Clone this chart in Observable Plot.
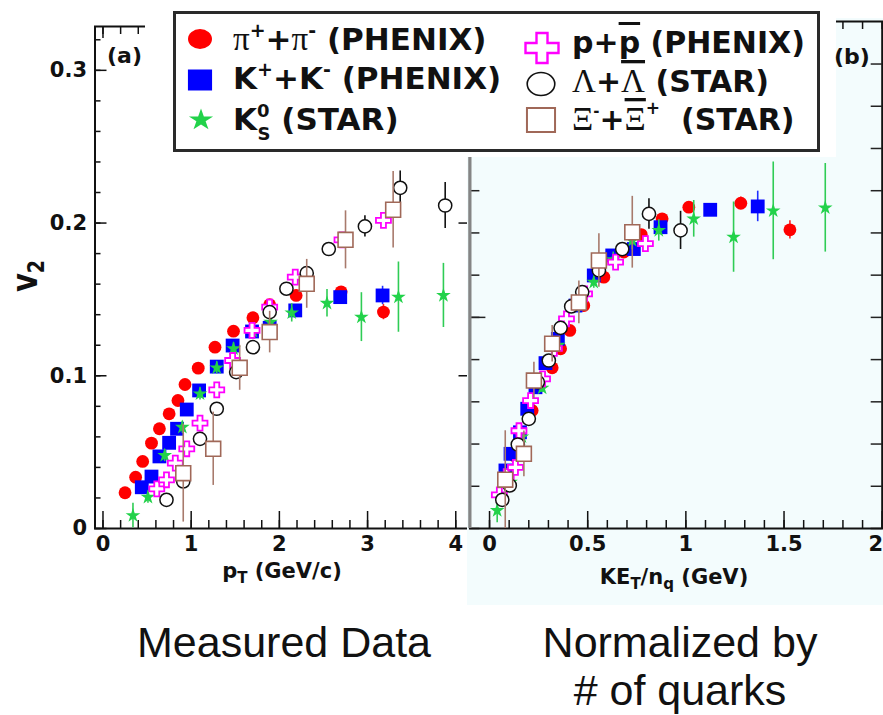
<!DOCTYPE html>
<html>
<head>
<meta charset="utf-8">
<script src="https://cdn.jsdelivr.net/npm/d3@7"></script>
<script src="https://cdn.jsdelivr.net/npm/@observablehq/plot@0.6"></script>
<style>
  body { margin: 0; background: #fff; }
  #root { position: relative; width: 883px; height: 715px; overflow: hidden; background: #fff; }
  #root > * { position: absolute; left: 0; top: 0; }
</style>
</head>
<body>
<div id="root"></div>
<script>
// ================= DATA: panel (a)  v2 vs pT (GeV/c) =================
const piPt   = [0.25, 0.37, 0.45, 0.55, 0.64, 0.75, 0.85, 0.93, 1.08, 1.27, 1.48, 1.70, 1.89, 2.19, 2.70, 3.18];
const piV2   = [0.0234, 0.0336, 0.0439, 0.0559, 0.0653, 0.0751, 0.0838, 0.0943, 0.105, 0.1187, 0.1292, 0.138, 0.1465, 0.1526, 0.155, 0.1417];
const piErr  = [0.001, 0.001, 0.001, 0.001, 0.001, 0.001, 0.001, 0.001, 0.001, 0.001, 0.001, 0.002, 0.002, 0.002, 0.003, 0.005];

const kPt    = [0.44, 0.55, 0.64, 0.75, 0.84, 0.95, 1.09, 1.29, 1.47, 1.69, 1.89, 2.18, 2.69, 3.17];
const kV2    = [0.027, 0.034, 0.0472, 0.0561, 0.0653, 0.0779, 0.0904, 0.106, 0.1198, 0.129, 0.1314, 0.1428, 0.1515, 0.1526];
const kErr   = [0.001, 0.001, 0.001, 0.001, 0.001, 0.001, 0.001, 0.002, 0.002, 0.002, 0.002, 0.003, 0.004, 0.006];

const k0Pt   = [0.34, 0.51, 0.70, 0.90, 1.10, 1.29, 1.48, 1.70, 1.90, 2.14, 2.54, 2.93, 3.35, 3.86];
const k0V2   = [0.0085, 0.0205, 0.0478, 0.0663, 0.0882, 0.1052, 0.1177, 0.1292, 0.1351, 0.1412, 0.1475, 0.1384, 0.1515, 0.1526];
const k0Err  = [0.008, 0.004, 0.004, 0.004, 0.004, 0.004, 0.004, 0.004, 0.005, 0.006, 0.009, 0.016, 0.023, 0.021];

const pPt    = [0.61, 0.72, 0.82, 0.95, 1.10, 1.29, 1.47, 1.69, 1.89, 2.18, 2.71, 3.18];
const pV2    = [0.026, 0.0319, 0.0428, 0.0522, 0.069, 0.0908, 0.11, 0.1297, 0.1449, 0.1646, 0.189, 0.2017];
const pErr   = [0.001, 0.001, 0.001, 0.001, 0.001, 0.002, 0.002, 0.002, 0.002, 0.003, 0.004, 0.005];

const lamPt  = [0.72, 0.91, 1.10, 1.29, 1.51, 1.70, 1.89, 2.08, 2.31, 2.56, 2.97, 3.37, 3.88];
const lamV2  = [0.0188, 0.0308, 0.0587, 0.0784, 0.1024, 0.1187, 0.1417, 0.157, 0.1672, 0.183, 0.1978, 0.2231, 0.2115];
const lamErr = [0.002, 0.004, 0.003, 0.003, 0.003, 0.003, 0.003, 0.003, 0.004, 0.004, 0.007, 0.011, 0.015];

const xiPt   = [0.91, 1.25, 1.55, 1.89, 2.31, 2.75, 3.29];
const xiV2   = [0.0362, 0.0522, 0.1052, 0.1286, 0.1602, 0.189, 0.2087];
const xiErr  = [0.032, 0.024, 0.0147, 0.0136, 0.016, 0.019, 0.025];

// ================= DATA: panel (b)  v2 vs KE_T/n_q (GeV) =================
const piKE    = [0.075, 0.124, 0.217, 0.319, 0.362, 0.409, 0.48, 0.582, 0.684, 0.773, 0.879, 1.015, 1.28, 1.53];
const piV2b   = [0.031, 0.0478, 0.0773, 0.1052, 0.1177, 0.1297, 0.146, 0.1646, 0.181, 0.1925, 0.2028, 0.2104, 0.213, 0.1956];
const piErrB  = [0.001, 0.001, 0.001, 0.001, 0.001, 0.001, 0.002, 0.002, 0.002, 0.002, 0.002, 0.003, 0.004, 0.006];

const kKE     = [0.081, 0.107, 0.155, 0.192, 0.234, 0.285, 0.348, 0.438, 0.531, 0.625, 0.735, 0.871, 1.124, 1.366];
const kV2b    = [0.038, 0.0489, 0.063, 0.0784, 0.0925, 0.1083, 0.1242, 0.146, 0.1657, 0.1788, 0.183, 0.1973, 0.2087, 0.2109];
const kErrB   = [0.001, 0.001, 0.001, 0.001, 0.001, 0.001, 0.002, 0.002, 0.002, 0.002, 0.002, 0.003, 0.004, 0.01];

const k0KE    = [0.039, 0.107, 0.165, 0.268, 0.35, 0.44, 0.531, 0.63, 0.727, 0.862, 1.04, 1.243, 1.445, 1.71];
const k0V2b   = [0.0118, 0.0303, 0.060, 0.092, 0.120, 0.145, 0.1613, 0.176, 0.1886, 0.1952, 0.2028, 0.1908, 0.208, 0.21];
const k0ErrB  = [0.008, 0.003, 0.003, 0.003, 0.003, 0.003, 0.004, 0.005, 0.006, 0.007, 0.012, 0.023, 0.032, 0.029];

const pKE     = [0.05, 0.085, 0.132, 0.15, 0.209, 0.27, 0.33, 0.392, 0.484, 0.642, 0.794];
const pV2b    = [0.022, 0.034, 0.040, 0.064, 0.0838, 0.098, 0.118, 0.1373, 0.1537, 0.1744, 0.1865];
const pErrB   = [0.001, 0.001, 0.001, 0.001, 0.002, 0.002, 0.002, 0.002, 0.002, 0.003, 0.004];

const lamKE   = [0.065, 0.103, 0.144, 0.2, 0.246, 0.302, 0.362, 0.416, 0.472, 0.557, 0.676, 0.812, 0.973];
const lamV2b  = [0.0188, 0.0282, 0.055, 0.0718, 0.0958, 0.11, 0.1314, 0.1454, 0.1548, 0.169, 0.183, 0.206, 0.1952];
const lamErrB = [0.002, 0.002, 0.002, 0.002, 0.002, 0.002, 0.002, 0.002, 0.003, 0.003, 0.004, 0.01, 0.0125];

const xiKE    = [0.08, 0.175, 0.226, 0.319, 0.455, 0.557, 0.727];
const xiV2b   = [0.032, 0.0489, 0.0969, 0.121, 0.148, 0.1755, 0.194];
const xiErrB  = [0.032, 0.015, 0.012, 0.012, 0.014, 0.0175, 0.0235];

// ================= Tick labels =================
const xTickLabelsA = [0, 1, 2, 3, 4];
const yTickLabelsA = [0, 0.1, 0.2, 0.3];
const xTickLabelsB = [0, 0.5, 1, 1.5, 2];

// ================= Species styles =================
const species = [
  {name: "pi",  symbol: "circle", fill: "#ff0000", stroke: "none",    sw: 0,   r: 6.4, err: "#ff2020"},
  {name: "K",   symbol: "square", fill: "#0000ff", stroke: "none",    sw: 0,   r: 7.8, err: "#2030ff"},
  {name: "K0s", symbol: "star",   fill: "#22d24a", stroke: "none",    sw: 0,   r: 4.6, err: "#2fcc55"},
  {name: "p",   symbol: "cross",  fill: "white",   stroke: "#ff00ff", sw: 1.8, r: 6.3, err: "#ff00ff"},
  {name: "Lam", symbol: "circle", fill: "white",   stroke: "#111",    sw: 1.5, r: 6.6, err: "#111"},
  {name: "Xi",  symbol: "square", fill: "white",   stroke: "#a06858", sw: 1.6, r: 8.4, err: "#a87a6c"}
];

const rows = (xs, ys, es) => xs.map((x, i) => ({x, v: ys[i], e: es[i]}));
const dataA = [rows(piPt, piV2, piErr), rows(kPt, kV2, kErr), rows(k0Pt, k0V2, k0Err),
               rows(pPt, pV2, pErr), rows(lamPt, lamV2, lamErr), rows(xiPt, xiV2, xiErr)];
const dataB = [rows(piKE, piV2b, piErrB), rows(kKE, kV2b, kErrB), rows(k0KE, k0V2b, k0ErrB),
               rows(pKE, pV2b, pErrB), rows(lamKE, lamV2b, lamErrB), rows(xiKE, xiV2b, xiErrB)];

function speciesMarks(sets) {
  const out = [];
  sets.forEach((data, i) => {
    const s = species[i];
    out.push(Plot.ruleX(data, {x: "x", y1: d => d.v - d.e, y2: d => d.v + d.e, stroke: s.err, strokeWidth: 1.6}));
    out.push(Plot.dot(data, {x: "x", y: "v", symbol: s.symbol, r: s.r, fill: s.fill,
                             stroke: s.stroke, strokeWidth: s.sw}));
  });
  return out;
}

const FONT = "DejaVu Sans";
const root = document.getElementById("root");

// ================= Panel (a) =================
const xDomA = [-0.0905, 4.15], xRangeA = [94.5, 468.5];
const yDomA = [0, 0.3287],     yRangeA = [528, 26];
const fwA = xRangeA[1] - xRangeA[0], fhA = yRangeA[0] - yRangeA[1];
const yMinorA = d3.range(0, 0.33, 0.02), yMajorA = [0, 0.1, 0.2, 0.3];
const xMinorA = d3.range(0, 4.15, 0.2),  xMajorA = [0, 1, 2, 3, 4];

const plotA = Plot.plot({
  width: 470, height: 600,
  marginLeft: xRangeA[0], marginRight: 470 - xRangeA[1], marginTop: yRangeA[1], marginBottom: 600 - yRangeA[0],
  x: {domain: xDomA, range: xRangeA, axis: null},
  y: {domain: yDomA, range: yRangeA, axis: null},
  style: {background: "transparent", overflow: "visible"},
  marks: [
    Plot.tickY(yMinorA, {y: d => d, insetRight: fwA - 6, stroke: "#111", strokeWidth: 1.5}),
    Plot.tickY(yMajorA, {y: d => d, insetRight: fwA - 12, stroke: "#111", strokeWidth: 1.5}),
    Plot.tickY([0.1, 0.2], {y: d => d, insetLeft: fwA - 10, stroke: "#111", strokeWidth: 1.5}),
    Plot.tickX(xMinorA, {x: d => d, insetTop: fhA - 8, stroke: "#111", strokeWidth: 1.5}),
    Plot.tickX(xMajorA, {x: d => d, insetTop: fhA - 17, stroke: "#111", strokeWidth: 1.5}),
    Plot.tickX(xMinorA, {x: d => d, insetBottom: fhA - 8, stroke: "#111", strokeWidth: 1.5}),
    Plot.tickX(xMajorA, {x: d => d, insetBottom: fhA - 12, stroke: "#111", strokeWidth: 1.5}),
    Plot.frame({stroke: "#111", strokeWidth: 2}),
    Plot.text(xTickLabelsA, {x: d => d, text: d => String(d), frameAnchor: "bottom", lineAnchor: "top", dy: 8,
                             fontFamily: FONT, fontWeight: "bold", fontSize: 21, fill: "#111"}),
    Plot.text(yTickLabelsA, {y: d => d, text: d => d === 0 ? "0" : d.toFixed(1), frameAnchor: "left",
                             textAnchor: "end", dx: -8, fontFamily: FONT, fontWeight: "bold", fontSize: 21, fill: "#111"}),
    ...speciesMarks(dataA)
  ]
});
root.appendChild(plotA);

// light background of panel (b)
const bg = document.createElement("div");
Object.assign(bg.style, {left: "467px", top: "18px", width: "416px", height: "587px", background: "#f3fcfd"});
root.appendChild(bg);

// ================= Panel (b) =================
const xDomB = [-0.1, 2.0],  xRangeB = [469.4, 881.7];
const yDomB = [0, 0.3320],  yRangeB = [528, 21];
const fwB = xRangeB[1] - xRangeB[0], fhB = yRangeB[0] - yRangeB[1];
const yTicksB = d3.range(0, 12).map(i => i * 0.02765);
const yMajB = [yTicksB[5], yTicksB[10]];
const xMinorB = d3.range(0, 2.01, 0.1), xMajorB = [0, 0.5, 1, 1.5, 2];
const lastB = xTickLabelsB[xTickLabelsB.length - 1];

const plotB = Plot.plot({
  width: 883, height: 600,
  marginLeft: xRangeB[0], marginRight: 883 - xRangeB[1], marginTop: yRangeB[1], marginBottom: 600 - yRangeB[0],
  x: {domain: xDomB, range: xRangeB, axis: null},
  y: {domain: yDomB, range: yRangeB, axis: null},
  style: {background: "transparent", overflow: "visible"},
  marks: [
    Plot.tickY(yTicksB, {y: d => d, insetRight: fwB - 10, stroke: "#222", strokeWidth: 1.5}),
    Plot.tickY(yMajB,   {y: d => d, insetRight: fwB - 16, stroke: "#222", strokeWidth: 1.5}),
    Plot.tickY(yTicksB, {y: d => d, insetLeft: fwB - 11, stroke: "#222", strokeWidth: 1.5}),
    Plot.tickX(xMinorB, {x: d => d, insetTop: fhB - 8, stroke: "#111", strokeWidth: 1.5}),
    Plot.tickX(xMajorB, {x: d => d, insetTop: fhB - 17, stroke: "#111", strokeWidth: 1.5}),
    Plot.tickX(xMinorB, {x: d => d, insetBottom: fhB - 8, stroke: "#111", strokeWidth: 1.5}),
    Plot.frame({stroke: "#111", strokeWidth: 2}),
    Plot.ruleX([xDomB[0]], {stroke: "#858585", strokeWidth: 3.2}),
    Plot.text(xTickLabelsB.filter(d => d !== lastB), {x: d => d, text: d => String(d), frameAnchor: "bottom",
                             lineAnchor: "top", dy: 8, fontFamily: FONT, fontWeight: "bold", fontSize: 21, fill: "#111"}),
    Plot.text([lastB], {x: d => d, text: d => String(d), frameAnchor: "bottom", textAnchor: "end", dx: 1,
                             lineAnchor: "top", dy: 8, fontFamily: FONT, fontWeight: "bold", fontSize: 21, fill: "#111"}),
    ...speciesMarks(dataB)
  ]
});
root.appendChild(plotB);

// ================= Overlay: legend, labels, captions =================
const ov = d3.select(root).append("svg")
  .attr("width", 883).attr("height", 715)
  .style("pointer-events", "none");

ov.append("rect").attr("x", 145).attr("y", 0).attr("width", 691).attr("height", 157).attr("fill", "white");
ov.append("rect").attr("x", 174.5).attr("y", 12.5).attr("width", 644).attr("height", 138)
  .attr("fill", "white").attr("stroke", "#2a2a2a").attr("stroke-width", 3);

const legendSymbols = [
  {type: d3.symbolCircle, size: 314, x: 200, y: 39,  sx: 1.2,  fill: "#ff0000", stroke: "none", sw: 0},
  {type: d3.symbolSquare, size: 441, x: 200, y: 80,  sx: 1.15, fill: "#0000ff", stroke: "none", sw: 0},
  {type: d3.symbolStar,   size: 150, x: 201, y: 120, sx: 1.1,  fill: "#22d24a", stroke: "none", sw: 0},
  {type: d3.symbolCross,  size: 500, x: 542, y: 48,  sx: 1.1,  fill: "white",   stroke: "#ff00ff", sw: 2.4},
  {type: d3.symbolCircle, size: 415, x: 541, y: 84,  sx: 1.2,  fill: "white",   stroke: "#111", sw: 1.6},
  {type: d3.symbolSquare, size: 576, x: 541, y: 120, sx: 1.17, fill: "white",   stroke: "#a06858", sw: 2}
];
legendSymbols.forEach(s => {
  ov.append("path").attr("d", d3.symbol(s.type, s.size)())
    .attr("transform", `translate(${s.x},${s.y}) scale(${s.sx},1)`)
    .attr("fill", s.fill).attr("stroke", s.stroke).attr("stroke-width", s.sw)
    .attr("vector-effect", "non-scaling-stroke");
});

const SERIF = "Liberation Serif";
function richText(x, y, parts, base = {}) {
  const t = ov.append("text").attr("x", x).attr("y", y)
    .attr("font-family", base.font || FONT).attr("font-weight", base.weight || "bold")
    .attr("font-size", base.size || 30).attr("fill", "#111").style("white-space", "pre");
  if (base.anchor) t.attr("text-anchor", base.anchor);
  if (base.transform) t.attr("transform", base.transform);
  parts.forEach(p => {
    if (typeof p === "string") p = {t: p};
    const ts = t.append("tspan").text(p.t);
    if (p.size) ts.attr("font-size", p.size);
    if (p.dy) ts.attr("dy", p.dy);
    if (p.dx) ts.attr("dx", p.dx);
    if (p.font) ts.attr("font-family", p.font);
    if (p.weight) ts.attr("font-weight", p.weight);
    if (p.over) ts.style("text-decoration", "overline");
  });
  return t;
}
const G = {font: SERIF, weight: "normal", size: 33};
richText(233, 50, [{...G, t: "π"}, {t: "+", size: 19, dy: -13}, {t: "+", dy: 13}, {...G, t: "π"},
                   {t: "-", size: 19, dy: -13}, {t: " (PHENIX)", dy: 13}], {size: 31});
richText(233, 89, ["K", {t: "+", size: 19, dy: -13}, {t: "+", dy: 13}, "K",
                   {t: "-", size: 19, dy: -13}, {t: " (PHENIX)", dy: 13}], {size: 31});
richText(233, 130, ["K", {t: "0", size: 18, dy: -13}, {t: "S", size: 18, dx: -12, dy: 23}, {t: " (STAR)", dy: -10}], {size: 31});
richText(572, 53, ["p+", {t: "p", over: true}, " (PHENIX)"]);
richText(572, 92, [{...G, t: "Λ"}, "+", {...G, t: "Λ", over: true}, " (STAR)"]);
richText(572, 130, [{...G, t: "Ξ"}, {t: "-", size: 15, dy: -14}, {t: "+", dy: 14}, {...G, t: "Ξ", over: true},
                    {t: "+", size: 17, dy: -16}, {t: "  (STAR)", dy: 16}]);

richText(107, 63, ["(a)"], {size: 22});
richText(834, 64, ["(b)"], {size: 22});

richText(282, 578, ["p", {t: "T", size: 15, dy: 5}, {t: " (GeV/c)", dy: -5}], {size: 21, anchor: "middle"});
richText(674, 584, ["KE", {t: "T", size: 15, dy: 5}, {t: "/n", dy: -5}, {t: "q", size: 15, dy: 5},
                    {t: " (GeV)", dy: -5}], {size: 21, anchor: "middle"});
richText(0, 0, ["v", {t: "2", size: 19, dy: 6}], {size: 29, anchor: "middle",
                 transform: "translate(37,276) scale(1.2,1) rotate(-90)"});

const CAP = {font: "Liberation Sans", weight: "normal", size: 43};
richText(137, 657, ["Measured Data"], CAP);
richText(680, 657, ["Normalized by"], {...CAP, anchor: "middle"});
richText(680, 705, ["# of quarks"], {...CAP, anchor: "middle"});
</script>
</body>
</html>
